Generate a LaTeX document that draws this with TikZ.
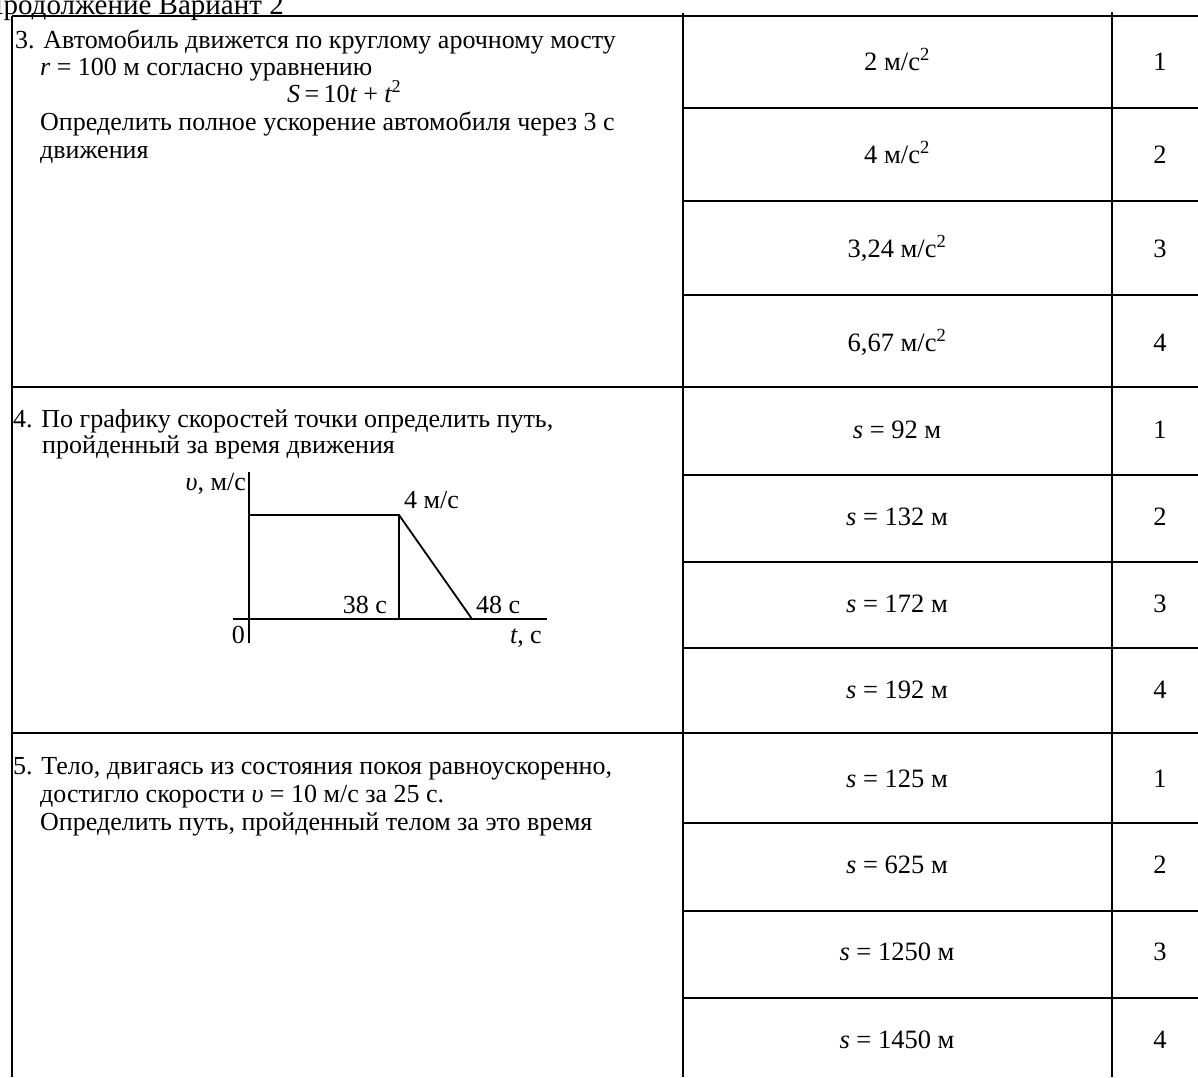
\documentclass[tikz,border=0pt]{standalone}
\usepackage{fontspec}
\setmainfont{Liberation Serif}
\begin{document}
\begin{tikzpicture}[x=1pt,y=-1pt,
  tl/.style={line width=1.8pt},
  gl/.style={line width=1.8pt},
  body/.style={anchor=base west, inner sep=0pt, font=\fontsize{26}{28}\selectfont},
  ans/.style={anchor=base, inner sep=0pt, font=\fontsize{26.5}{28}\selectfont}]
\useasboundingbox (0,0) rectangle (1198,1077);
\begin{scope}
\clip (0,0) rectangle (1198,1077);
\node[anchor=base east, inner sep=0pt, font=\fontsize{29}{31}\selectfont] (title) at (284,14) {Продолжение Вариант 2};
\end{scope}
% table
\draw[tl] (12,16) -- (1198,16);
\draw[tl] (12,16) -- (12,1077);
\draw[tl] (683,13) -- (683,1077);
\draw[tl] (1112,12) -- (1112,1077);
\draw[tl] (12,387) -- (1198,387);
\draw[tl] (12,733) -- (1198,733);
\foreach \y in {108,201,295,475,562,648,823,911,998} \draw[tl] (683,\y) -- (1198,\y);
% question 3
\node[body] (q3a) at (15,48) {3. Автомобиль движется по круглому арочному мосту};
\node[body] (q3b) at (40,75) {{\itshape r} = 100 м согласно уравнению};
\node[body] (q3c) at (287,102) {{\itshape S}\,=\,10{\itshape t} + {\itshape t}\textsuperscript{2}};
\node[body] (q3d) at (40,130) {Определить полное ускорение автомобиля через 3 с};
\node[body] (q3e) at (40,158) {движения};
% question 4
\node[body] (q4a) at (13,427) {4. По графику скоростей точки определить путь,};
\node[body] (q4b) at (42,453) {пройденный за время движения};
\coordinate (ytop) at (249,472);
\coordinate (ybot) at (249,643);
\coordinate (xl) at (233,619);
\coordinate (xr) at (547,619);
\coordinate (A) at (249,515);
\coordinate (B) at (399,515);
\coordinate (Bf) at (399,619);
\coordinate (C) at (472,619);
\draw[gl] (ytop) -- (ybot);
\draw[gl] (xl) -- (xr);
\draw[gl] (A) -- (B) -- (C);
\draw[gl] (B) -- (Bf);
\node[body, anchor=base east] (vlab) at (246,490) {{\itshape υ}, м/с};
\node[body] (v4) at (404,508) {4 м/с};
\node[body, anchor=base east] (t38) at (387,613) {38 с};
\node[body] (t48) at (476,613) {48 с};
\node[body, anchor=base east] (zero) at (245,643) {0};
\node[body, anchor=base east] (tlab) at (542,643) {{\itshape t}, с};
% question 5
\node[body] (q5a) at (13,774) {5. Тело, двигаясь из состояния покоя равноускоренно,};
\node[body] (q5b) at (40,802) {достигло скорости {\itshape υ} = 10 м/с за 25 с.};
\node[body] (q5c) at (40,830) {Определить путь, пройденный телом за это время};
% answers
\node[ans] (a31) at (897,70) {2 м/с\textsuperscript{2}};
\node[ans] (a32) at (897,163) {4 м/с\textsuperscript{2}};
\node[ans] (a33) at (897,257) {3,24 м/с\textsuperscript{2}};
\node[ans] (a34) at (897,351) {6,67 м/с\textsuperscript{2}};
\node[ans] (a41) at (897,438) {{\itshape s} = 92 м};
\node[ans] (a42) at (897,525) {{\itshape s} = 132 м};
\node[ans] (a43) at (897,612) {{\itshape s} = 172 м};
\node[ans] (a44) at (897,698) {{\itshape s} = 192 м};
\node[ans] (a51) at (897,787) {{\itshape s} = 125 м};
\node[ans] (a52) at (897,873) {{\itshape s} = 625 м};
\node[ans] (a53) at (897,960) {{\itshape s} = 1250 м};
\node[ans] (a54) at (897,1048) {{\itshape s} = 1450 м};
% numbers
\foreach \n/\y in {1/70,2/163,3/257,4/351,1/438,2/525,3/612,4/698,1/787,2/873,3/960,4/1048}
  \node[ans] (n\n-\y) at (1160,\y) {\n};
\end{tikzpicture}
\end{document}
